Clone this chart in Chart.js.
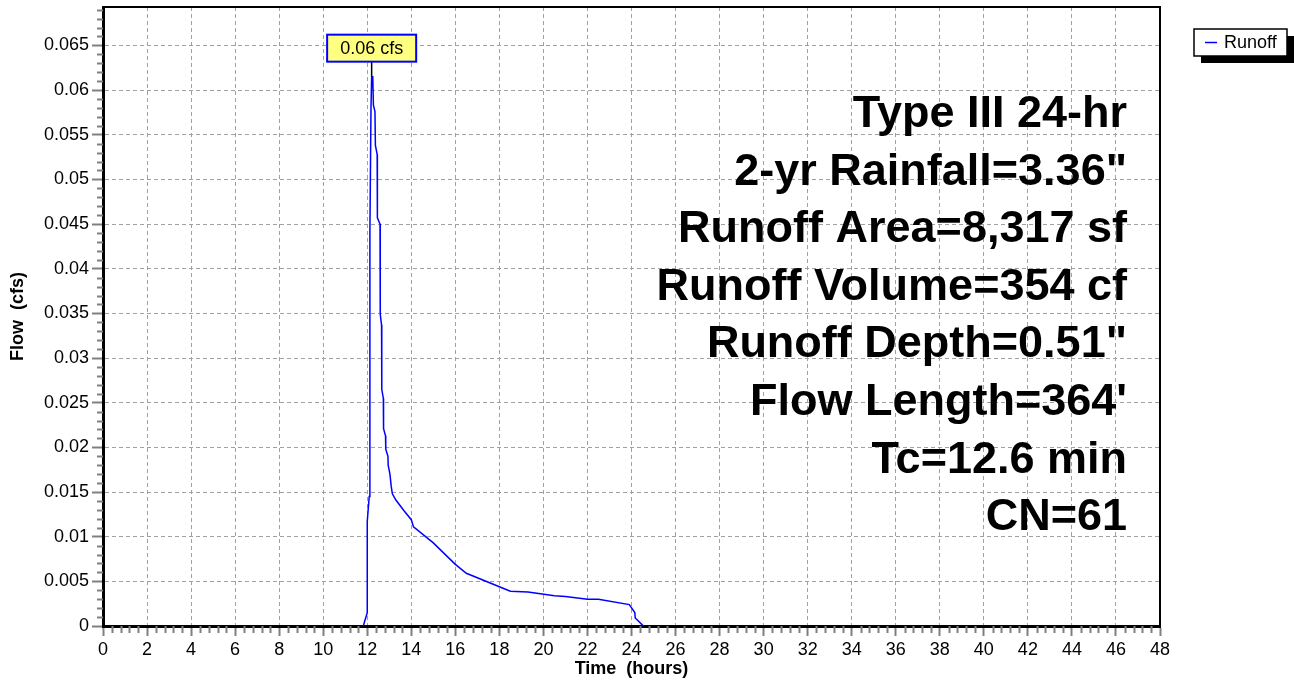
<!DOCTYPE html>
<html>
<head>
<meta charset="utf-8">
<script src="https://cdn.jsdelivr.net/npm/chart.js@4.4.1/dist/chart.umd.min.js"></script>
<style>
  body { margin: 0; background: #fff; }
  #wrap { width: 1294px; height: 681px; }
</style>
</head>
<body>
<div id="wrap"><canvas id="chart" width="1294" height="681"></canvas></div>
<script>
// hydrograph
const seriesName = "Runoff";
const hours = [11.82, 12.0, 12.0, 12.09, 12.12, 12.17, 12.2, 12.25, 12.28, 12.35, 12.37, 12.45, 12.46,
  12.58, 12.59, 12.65, 12.66, 12.73, 12.74, 12.83, 12.84, 12.94, 12.95, 13.03, 13.09, 13.14, 13.3,
  13.67, 14.0, 14.1, 15.0, 16.0, 16.5, 18.0, 18.5, 19.3, 20.5, 21.0, 22.0, 22.5, 23.9, 24.15, 24.17,
  24.5, 24.55];
const flows = [0, 0.0015, 0.0117, 0.0145, 0.044, 0.058, 0.0615, 0.0615, 0.0583, 0.0576, 0.0538, 0.0528, 0.0457,
  0.045, 0.0349, 0.0337, 0.0265, 0.0255, 0.0221, 0.0213, 0.0198, 0.019, 0.018, 0.017, 0.0156, 0.0148, 0.0141,
  0.0129, 0.0119, 0.0111, 0.0093, 0.0069, 0.0059, 0.0044, 0.0039, 0.0038, 0.0034, 0.0033, 0.003, 0.003, 0.0024, 0.0015, 0.0009,
  0.0001, 0];

const xTicks = [0, 2, 4, 6, 8, 10, 12, 14, 16, 18, 20, 22, 24, 26, 28, 30, 32, 34, 36, 38, 40, 42, 44, 46, 48];
const yTicks = [0, 0.005, 0.01, 0.015, 0.02, 0.025, 0.03, 0.035, 0.04, 0.045, 0.05, 0.055, 0.06, 0.065];
const yMax = 0.0693;

const infoLines = [
  "Type III 24-hr",
  "2-yr Rainfall=3.36\"",
  "Runoff Area=8,317 sf",
  "Runoff Volume=354 cf",
  "Runoff Depth=0.51\"",
  "Flow Length=364'",
  "Tc=12.6 min",
  "CN=61"
];

const FONT = "'Liberation Sans', Arial, Helvetica, sans-serif";
Chart.defaults.font.family = FONT;
Chart.defaults.color = "#000";

const extras = {
  id: "extras",
  afterDraw(chart) {
    const { ctx, chartArea: a, scales: { x, y } } = chart;
    ctx.save();

    // minor ticks
    ctx.strokeStyle = "#808080";
    ctx.lineWidth = 2;
    ctx.beginPath();
    for (let i = 0; i <= 69; i++) {
      if (i % 5 === 0) continue;
      const py = Math.round(y.getPixelForValue(i / 1000)) + 0.5;
      ctx.moveTo(a.left - 6, py);
      ctx.lineTo(a.left, py);
    }
    for (let i = 0; i <= 120; i++) {
      if (i % 5 === 0) continue;
      const px = Math.round(x.getPixelForValue(i * 0.4)) + 0.5;
      ctx.moveTo(px, a.bottom);
      ctx.lineTo(px, a.bottom + 7);
    }
    ctx.stroke();

    // frame
    ctx.strokeStyle = "#000";
    ctx.lineWidth = 2;
    ctx.beginPath();
    ctx.moveTo(a.left, a.top);
    ctx.lineTo(a.right, a.top);
    ctx.lineTo(a.right, a.bottom);
    ctx.stroke();

    // info text block
    ctx.fillStyle = "#000";
    ctx.font = "bold 45px " + FONT;
    ctx.textAlign = "right";
    ctx.textBaseline = "alphabetic";
    infoLines.forEach((t, i) => ctx.fillText(t, 1127, 127 + i * 57.6));

    // peak label
    let pk = 0;
    flows.forEach((v, i) => { if (v > flows[pk]) pk = i; });
    const px = x.getPixelForValue(hours[pk]);
    const py = y.getPixelForValue(flows[pk]);
    const label = flows[pk].toFixed(2) + " cfs";
    ctx.font = "18px " + FONT;
    const w = ctx.measureText(label).width + 26;
    const h = 27;
    const by = py - 15 - h;
    ctx.strokeStyle = "#000";
    ctx.lineWidth = 1.5;
    ctx.beginPath();
    ctx.moveTo(px, by + h);
    ctx.lineTo(px, py);
    ctx.stroke();
    ctx.fillStyle = "#ffff80";
    ctx.fillRect(px - w / 2, by, w, h);
    ctx.strokeStyle = "#0000ff";
    ctx.lineWidth = 2;
    ctx.strokeRect(px - w / 2, by, w, h);
    ctx.fillStyle = "#000";
    ctx.textAlign = "center";
    ctx.textBaseline = "middle";
    ctx.fillText(label, px, by + h / 2 + 1);

    // legend with drop shadow
    const lx = 1194, ly = 29, lw = 93, lh = 27;
    ctx.fillStyle = "#000";
    ctx.fillRect(lx + 7, ly + 7, lw, lh);
    ctx.fillStyle = "#fff";
    ctx.fillRect(lx, ly, lw, lh);
    ctx.strokeStyle = "#000";
    ctx.lineWidth = 1.5;
    ctx.strokeRect(lx, ly, lw, lh);
    ctx.strokeStyle = chart.data.datasets[0].borderColor;
    ctx.lineWidth = 1.5;
    ctx.beginPath();
    ctx.moveTo(lx + 11, ly + lh / 2);
    ctx.lineTo(lx + 23, ly + lh / 2);
    ctx.stroke();
    ctx.fillStyle = "#000";
    ctx.textAlign = "left";
    ctx.fillText(chart.data.datasets[0].label, lx + 30, ly + lh / 2 + 1);

    ctx.restore();
  }
};

new Chart(document.getElementById("chart"), {
  type: "line",
  data: {
    datasets: [{
      label: seriesName,
      data: hours.map((h, i) => ({ x: h, y: flows[i] })),
      borderColor: "#0000ff",
      borderWidth: 1.5,
      pointRadius: 0,
      tension: 0,
      fill: false
    }]
  },
  options: {
    responsive: false,
    animation: false,
    layout: { padding: { top: 7, right: 134, left: 0, bottom: 0 } },
    plugins: { legend: { display: false }, tooltip: { enabled: false } },
    scales: {
      x: {
        type: "linear",
        min: 0,
        max: 48,
        afterBuildTicks: s => { s.ticks = xTicks.map(v => ({ value: v })); },
        afterFit: s => { s.height = 55; s.paddingLeft = 0; s.paddingRight = 0; },
        ticks: { font: { size: 18 }, color: "#000", padding: 3, maxRotation: 0, autoSkip: false },
        grid: { color: "#a0a0a0", lineWidth: 1, tickLength: 10, tickColor: "#808080", tickWidth: 2 },
        border: { display: true, color: "#000", width: 3, dash: [4, 3] },
        title: { display: true, text: "Time  (hours)", color: "#000", font: { size: 18, weight: "bold" }, padding: { top: 0, bottom: 1 } }
      },
      y: {
        type: "linear",
        min: 0,
        max: yMax,
        afterBuildTicks: s => { s.ticks = yTicks.map(v => ({ value: v })); },
        afterFit: s => { s.width = 103; s.paddingTop = 0; s.paddingBottom = 0; },
        ticks: { font: { size: 18 }, color: "#000", padding: 3, callback: v => String(+v.toFixed(3)) },
        grid: { color: "#a0a0a0", lineWidth: 1, tickLength: 11, tickColor: "#808080", tickWidth: 2 },
        border: { display: true, color: "#000", width: 3, dash: [4, 3] },
        title: { display: true, text: "Flow  (cfs)", color: "#000", font: { size: 18, weight: "bold" }, padding: { top: 7, bottom: 0 } }
      }
    }
  },
  plugins: [extras]
});
</script>
</body>
</html>
